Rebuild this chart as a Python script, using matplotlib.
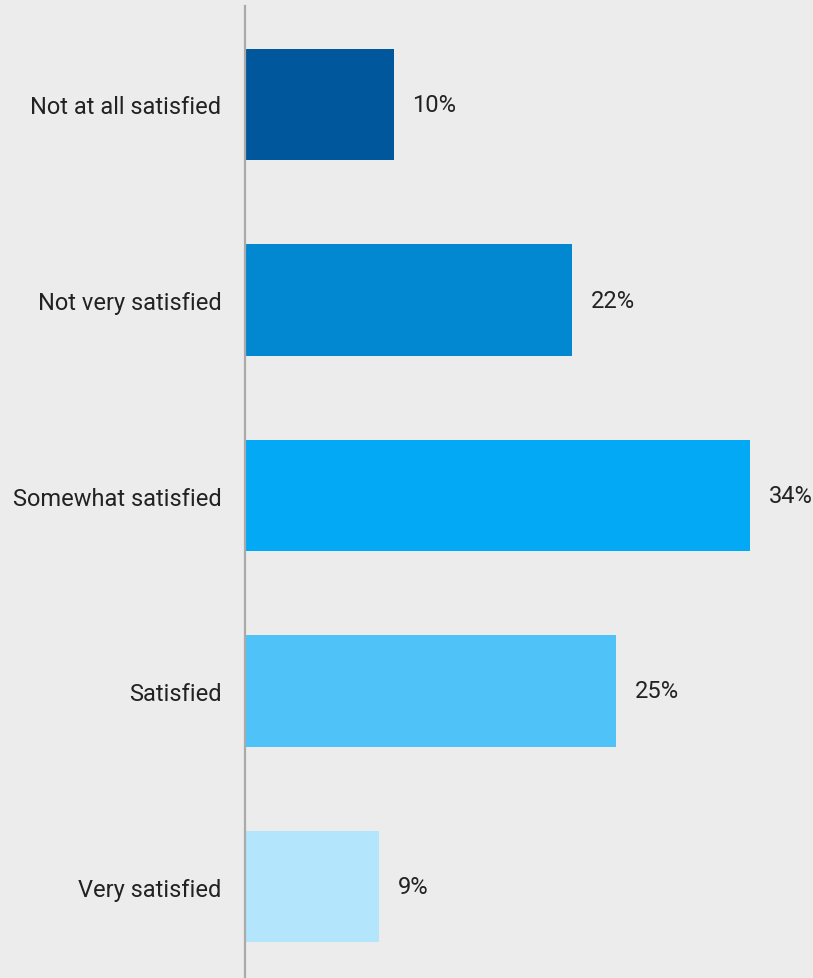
import matplotlib
matplotlib.use("Agg")
import matplotlib.pyplot as plt

categories = ["Not at all satisfied", "Not very satisfied", "Somewhat satisfied", "Satisfied", "Very satisfied"]
values = [10, 22, 34, 25, 9]
value_labels = ["10%", "22%", "34%", "25%", "9%"]
colors = ["#01579b", "#0288d1", "#03a9f4", "#4fc3f7", "#b3e5fc"]

plt.rcParams['font.family'] = ['Roboto', 'DejaVu Sans']
W, H = 813, 979
bg = "#ececec"
fig = plt.figure(figsize=(W/100, H/100), dpi=100, facecolor=bg)
left, top, bottom = 245, 7, 979
ax = fig.add_axes([left/W, 1 - bottom/H, (W-left)/W, (bottom-top)/H], facecolor=bg)

ypos = list(range(len(categories)))
ax.barh(ypos, values, height=0.57, color=colors, zorder=2)
unit = 195.5
c0 = 105.5
ax.set_ylim((bottom - c0) / unit, -(c0 - top) / unit)
ax.set_xlim(0, (W - left) / 14.85)

for y, v, lab in zip(ypos, values, value_labels):
    ax.annotate(lab, (v, y), xytext=(19, 0), textcoords="offset pixels",
                va="center", ha="left", fontsize=17, color="#222222")

ax.set_yticks(ypos)
ax.set_yticklabels(categories, fontsize=17, color="#222222")
ax.tick_params(axis="y", length=0, pad=17)
ax.set_xticks([])
for s in ["top", "right", "bottom"]:
    ax.spines[s].set_visible(False)
ax.spines["left"].set_color("#aaaaaa")
ax.spines["left"].set_linewidth(1.6)
ax.spines["left"].set_zorder(3)

fig.savefig("out.png", dpi=100, facecolor=bg)
